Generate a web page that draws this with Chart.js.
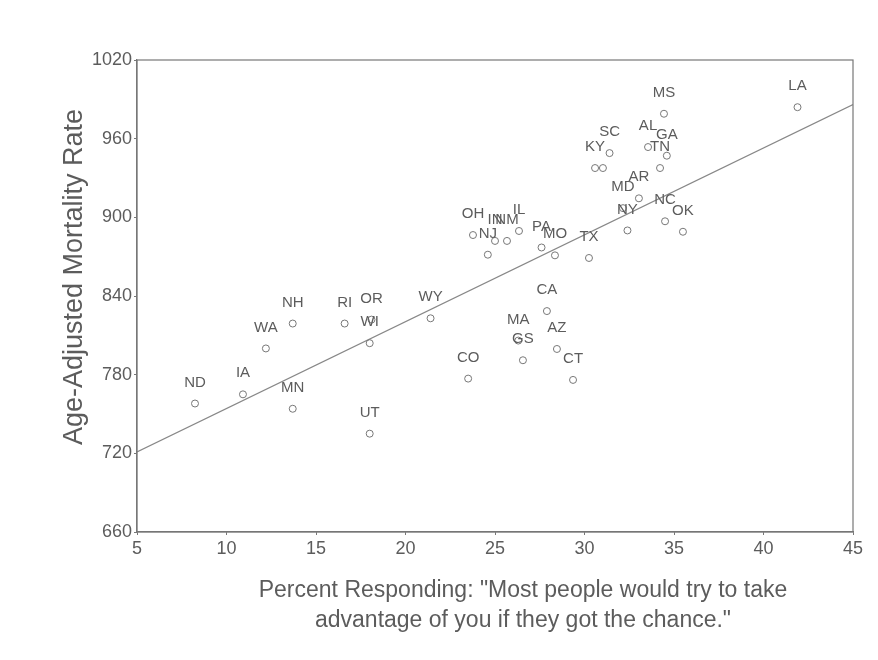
<!DOCTYPE html>
<html>
<head>
<meta charset="utf-8">
<script src="https://cdn.jsdelivr.net/npm/chart.js@4"></script>
<style>
html,body{margin:0;padding:0;background:#fff;}
#wrap{width:878px;height:660px;}
</style>
</head>
<body>
<div id="wrap"><canvas id="c" width="878" height="660"></canvas></div>
<script>
const stateLabels = ["ND","IA","WA","NH","MN","RI","OR","WI","WY","UT","CO","MA","GS","CA","AZ","CT","OH","IN","NM","IL","NJ","PA","MO","TX","NY","MD","AR","NC","OK","MS","LA","SC","KY","","AL","GA","TN"];
const pctResponding = [8.24,10.92,12.2,13.7,13.7,16.6,18.1,18.0,21.4,18.0,23.5,26.3,26.56,27.9,28.46,29.36,23.77,25.0,25.67,26.34,24.6,27.6,28.35,30.25,32.4,32.15,33.04,34.5,35.5,34.44,41.9,31.4,30.59,31.03,33.55,34.6,34.22];
const mortality = [758,765,800,819,754,819,822,804,823,735,777,806,791,828.5,799.6,776,886.5,882,882,889.6,871.5,877,871,869,890,907,914.5,897,889,979,984,949,937.6,937.6,953.6,947,937.6];
const fitLine = [[5,721],[45,986]];
const xTicks = [5,10,15,20,25,30,35,40,45];
const yTicks = [660,720,780,840,900,960,1020];
const xTitle = ['Percent Responding: "Most people would try to take','advantage of you if they got the chance."'];
const yTitle = 'Age-Adjusted Mortality Rate';

const FONT = "'Liberation Sans', Arial, sans-serif";
const TXT = '#5c5c5c';

const points = pctResponding.map((x,i)=>({x:x,y:mortality[i]}));

const labelPlugin = {
  id:'stateLabels',
  afterDatasetsDraw(chart){
    const ctx = chart.ctx;
    const xs = chart.scales.x, ys = chart.scales.y;
    ctx.save();
    ctx.font = "15px " + FONT;
    ctx.fillStyle = TXT;
    ctx.textAlign = 'center';
    ctx.textBaseline = 'middle';
    points.forEach((p,i)=>{
      if(!stateLabels[i]) return;
      ctx.fillText(stateLabels[i], xs.getPixelForValue(p.x), ys.getPixelForValue(p.y) - 21);
    });
    ctx.restore();
  }
};
const framePlugin = {
  id:'frame',
  afterDraw(chart){
    const a = chart.chartArea, ctx = chart.ctx;
    ctx.save();
    ctx.strokeStyle = '#777';
    ctx.lineWidth = 1.2;
    ctx.strokeRect(a.left, a.top, a.right - a.left, a.bottom - a.top);
    // axis titles
    ctx.fillStyle = TXT;
    ctx.textAlign = 'center';
    ctx.textBaseline = 'middle';
    ctx.font = "23px " + FONT;
    const cx = (a.left + a.right) / 2 + 28;
    ctx.fillText(xTitle[0], cx, a.bottom + 59);
    ctx.fillText(xTitle[1], cx, a.bottom + 89);
    ctx.save();
    ctx.translate(75, (a.top + a.bottom) / 2 - 19);
    ctx.rotate(-Math.PI / 2);
    ctx.font = "27px " + FONT;
    ctx.fillText(yTitle, 0, 0);
    ctx.restore();
    ctx.restore();
  }
};

new Chart(document.getElementById('c'), {
  type:'scatter',
  data:{
    datasets:[
      {
        type:'scatter',
        data:points,
        pointStyle:'circle',
        pointRadius:3.5,
        pointBorderWidth:1,
        pointBorderColor:'#777',
        pointBackgroundColor:'rgba(255,255,255,0)'
      },
      {
        type:'line',
        data:fitLine.map(p=>({x:p[0],y:p[1]})),
        borderColor:'#888',
        borderWidth:1.2,
        pointRadius:0,
        fill:false
      }
    ]
  },
  options:{
    responsive:false,
    animation:false,
    events:[],
    layout:{padding:{left:58,top:60,right:25,bottom:0}},
    plugins:{legend:{display:false},tooltip:{enabled:false}},
    scales:{
      x:{
        type:'linear',
        min:5,max:45,
        afterBuildTicks(s){ s.ticks = xTicks.map(v=>({value:v})); },
        afterFit(s){ s.height = 128; },
        grid:{display:true,drawOnChartArea:false,drawTicks:true,tickLength:3,color:'#777'},
        border:{display:true,color:'#777',width:1.2},
        ticks:{font:{family:FONT,size:18},color:TXT,padding:3,maxRotation:0,callback:v=>String(v)},
        title:{display:false}
      },
      y:{
        type:'linear',
        min:660,max:1020,
        afterBuildTicks(s){ s.ticks = yTicks.map(v=>({value:v})); },
        afterFit(s){ s.width = 79; },
        grid:{display:true,drawOnChartArea:false,drawTicks:true,tickLength:3,color:'#777'},
        border:{display:true,color:'#777',width:1.2},
        ticks:{font:{family:FONT,size:18},color:TXT,padding:2,callback:v=>String(v)},
        title:{display:false}
      }
    }
  },
  plugins:[labelPlugin, framePlugin]
});
</script>
</body>
</html>
